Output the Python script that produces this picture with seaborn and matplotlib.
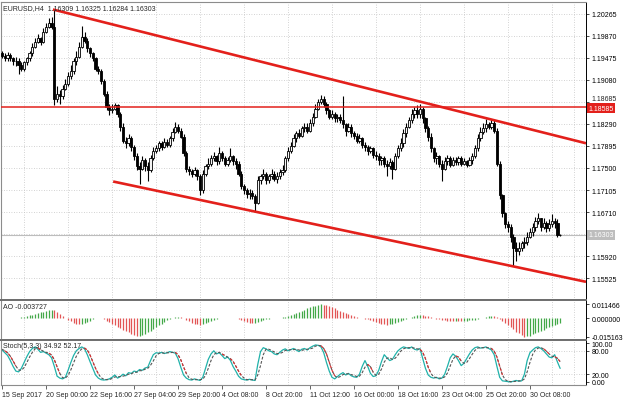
import numpy as np
import pandas as pd
import matplotlib.pyplot as plt
import matplotlib.transforms as mtransforms
import seaborn as sns

# EURUSD H4 bars (open = previous close)
first_open = 1.1955
close = [1.1951, 1.1946, 1.1953, 1.1946, 1.1941, 1.1942, 1.1935, 1.1928, 1.1939, 1.1946,
         1.1955, 1.1967, 1.1976, 1.1982, 1.1975, 1.1994, 1.2003, 1.2010, 1.2003, 1.1874,
         1.1883, 1.1878, 1.1892, 1.1901, 1.1915, 1.1924, 1.1941, 1.1949, 1.1967, 1.1985,
         1.1978, 1.1964, 1.1955, 1.1946, 1.1928, 1.1924, 1.1906, 1.1883, 1.1860, 1.1853,
         1.1856, 1.1862, 1.1847, 1.1824, 1.1799, 1.1794, 1.1803, 1.1788, 1.1771, 1.1753,
         1.1749, 1.1764, 1.1753, 1.1746, 1.1767, 1.1781, 1.1785, 1.1794, 1.1788, 1.1797,
         1.1792, 1.1803, 1.1815, 1.1824, 1.1817, 1.1806, 1.1776, 1.1749, 1.1744, 1.1739,
         1.1746, 1.1735, 1.1710, 1.1740, 1.1753, 1.1758, 1.1767, 1.1771, 1.1762, 1.1776,
         1.1767, 1.1758, 1.1764, 1.1771, 1.1762, 1.1758, 1.1740, 1.1717, 1.1710, 1.1703,
         1.1706, 1.1699, 1.1687, 1.1728, 1.1735, 1.1739, 1.1728, 1.1735, 1.1740, 1.1731,
         1.1735, 1.1742, 1.1746, 1.1767, 1.1781, 1.1790, 1.1803, 1.1812, 1.1808, 1.1821,
         1.1824, 1.1817, 1.1830, 1.1842, 1.1856, 1.1869, 1.1874, 1.1865, 1.1853, 1.1842,
         1.1847, 1.1839, 1.1842, 1.1835, 1.1828, 1.1817, 1.1824, 1.1812, 1.1808, 1.1799,
         1.1803, 1.1792, 1.1788, 1.1781, 1.1785, 1.1774, 1.1771, 1.1764, 1.1767, 1.1758,
         1.1753, 1.1760, 1.1749, 1.1771, 1.1785, 1.1794, 1.1812, 1.1824, 1.1835, 1.1847,
         1.1853, 1.1846, 1.1856, 1.1839, 1.1821, 1.1806, 1.1785, 1.1767, 1.1771, 1.1758,
         1.1749, 1.1762, 1.1767, 1.1756, 1.1764, 1.1760, 1.1767, 1.1758, 1.1762, 1.1756,
         1.1764, 1.1771, 1.1785, 1.1803, 1.1815, 1.1821, 1.1828, 1.1824, 1.1831, 1.1817,
         1.1758, 1.1701, 1.1669, 1.1649, 1.1645, 1.1627, 1.1606, 1.1602, 1.1606, 1.1615,
         1.1618, 1.1627, 1.1635, 1.1645, 1.1656, 1.1660, 1.1645, 1.1652, 1.1642, 1.1649,
         1.1656, 1.1652, 1.16309, 1.16303]
high = [1.1960, 1.1955, 1.1957, 1.1955, 1.1949, 1.1948, 1.1946, 1.1939, 1.1942, 1.1949,
        1.1960, 1.1973, 1.1982, 1.1989, 1.1985, 1.2000, 1.2009, 1.2018, 1.2021, 1.2032,
        1.1896, 1.1889, 1.1898, 1.1910, 1.1921, 1.1935, 1.1946, 1.1960, 1.1975, 1.2005,
        1.1994, 1.1982, 1.1967, 1.1958, 1.1949, 1.1933, 1.1928, 1.1910, 1.1887, 1.1865,
        1.1864, 1.1867, 1.1865, 1.1851, 1.1830, 1.1806, 1.1810, 1.1808, 1.1792, 1.1776,
        1.1760, 1.1771, 1.1767, 1.1760, 1.1774, 1.1788, 1.1792, 1.1799, 1.1799, 1.1803,
        1.1801, 1.1808, 1.1821, 1.1833, 1.1828, 1.1821, 1.1810, 1.1780, 1.1753, 1.1749,
        1.1751, 1.1749, 1.1739, 1.1746, 1.1758, 1.1767, 1.1774, 1.1778, 1.1774, 1.1788,
        1.1780, 1.1771, 1.1769, 1.1785, 1.1774, 1.1767, 1.1762, 1.1744, 1.1722, 1.1715,
        1.1713, 1.1710, 1.1703, 1.1735, 1.1740, 1.1748, 1.1742, 1.1740, 1.1748, 1.1744,
        1.1742, 1.1749, 1.1755, 1.1772, 1.1788, 1.1797, 1.1810, 1.1817, 1.1819, 1.1826,
        1.1831, 1.1830, 1.1837, 1.1849, 1.1864, 1.1874, 1.1880, 1.1878, 1.1869, 1.1856,
        1.1853, 1.1851, 1.1847, 1.1846, 1.1878, 1.1831, 1.1830, 1.1828, 1.1817, 1.1812,
        1.1810, 1.1805, 1.1797, 1.1792, 1.1790, 1.1787, 1.1780, 1.1776, 1.1772, 1.1771,
        1.1764, 1.1767, 1.1764, 1.1776, 1.1792, 1.1803, 1.1819, 1.1830, 1.1842, 1.1856,
        1.1860, 1.1862, 1.1864, 1.1860, 1.1842, 1.1826, 1.1812, 1.1788, 1.1778, 1.1774,
        1.1765, 1.1769, 1.1774, 1.1771, 1.1769, 1.1769, 1.1772, 1.1771, 1.1767, 1.1765,
        1.1769, 1.1776, 1.1792, 1.1810, 1.1824, 1.1830, 1.1837, 1.1833, 1.1837, 1.1835,
        1.1821, 1.1762, 1.1704, 1.1672, 1.1656, 1.1649, 1.1631, 1.1617, 1.1617, 1.1620,
        1.1627, 1.1635, 1.1642, 1.1652, 1.1663, 1.1669, 1.1661, 1.1660, 1.1656, 1.1658,
        1.1667, 1.1661, 1.1658, 1.16325]
low = [1.1946, 1.1942, 1.1942, 1.1941, 1.1935, 1.1932, 1.1919, 1.1923, 1.1924, 1.1935,
       1.1942, 1.1951, 1.1964, 1.1973, 1.1971, 1.1973, 1.1991, 1.2000, 1.1998, 1.1862,
       1.1869, 1.1865, 1.1874, 1.1889, 1.1896, 1.1910, 1.1919, 1.1935, 1.1946, 1.1964,
       1.1973, 1.1958, 1.1949, 1.1942, 1.1923, 1.1919, 1.1901, 1.1878, 1.1853, 1.1844,
       1.1849, 1.1853, 1.1842, 1.1817, 1.1794, 1.1785, 1.1790, 1.1781, 1.1764, 1.1746,
       1.1721, 1.1746, 1.1744, 1.1726, 1.1742, 1.1764, 1.1776, 1.1781, 1.1783, 1.1785,
       1.1787, 1.1788, 1.1799, 1.1812, 1.1812, 1.1803, 1.1771, 1.1742, 1.1737, 1.1733,
       1.1735, 1.1728, 1.1701, 1.1706, 1.1735, 1.1749, 1.1753, 1.1762, 1.1756, 1.1758,
       1.1762, 1.1753, 1.1753, 1.1760, 1.1756, 1.1749, 1.1735, 1.1712, 1.1703, 1.1697,
       1.1695, 1.1694, 1.1672, 1.1685, 1.1722, 1.1730, 1.1722, 1.1724, 1.1730, 1.1726,
       1.1724, 1.1731, 1.1737, 1.1742, 1.1762, 1.1776, 1.1787, 1.1797, 1.1803, 1.1805,
       1.1815, 1.1812, 1.1814, 1.1826, 1.1839, 1.1853, 1.1864, 1.1860, 1.1847, 1.1837,
       1.1837, 1.1833, 1.1833, 1.1830, 1.1821, 1.1808, 1.1814, 1.1806, 1.1801, 1.1794,
       1.1794, 1.1785, 1.1781, 1.1774, 1.1776, 1.1767, 1.1764, 1.1756, 1.1755, 1.1751,
       1.1735, 1.1748, 1.1731, 1.1746, 1.1767, 1.1780, 1.1788, 1.1806, 1.1821, 1.1830,
       1.1840, 1.1839, 1.1839, 1.1831, 1.1814, 1.1799, 1.1778, 1.1760, 1.1758, 1.1751,
       1.1726, 1.1746, 1.1755, 1.1751, 1.1753, 1.1755, 1.1756, 1.1753, 1.1755, 1.1751,
       1.1753, 1.1758, 1.1767, 1.1781, 1.1799, 1.1810, 1.1815, 1.1819, 1.1819, 1.1812,
       1.1753, 1.1695, 1.1663, 1.1642, 1.1635, 1.1618, 1.1575, 1.1584, 1.1595, 1.1601,
       1.1606, 1.1613, 1.1624, 1.1629, 1.1638, 1.1649, 1.1638, 1.1640, 1.1635, 1.1638,
       1.1644, 1.1642, 1.1627, 1.16284]

# Awesome Oscillator
ao = [0.0003, 0.0002, 0.0001, -0.0001, 0.0000, 0.0002, 0.0004, 0.0008, 0.0013, 0.0018,
      0.0024, 0.0030, 0.0036, 0.0042, 0.0048, 0.0054, 0.0060, 0.0066, 0.0071, 0.0063,
      0.0050, 0.0035, 0.0018, 0.0002, -0.0012, -0.0025, -0.0036, -0.0045, -0.0052, -0.0048,
      -0.0040, -0.0030, -0.0020, -0.0010, -0.0002, 0.0004, 0.0003, -0.0008, -0.0020, -0.0032,
      -0.0045, -0.0058, -0.0070, -0.0082, -0.0094, -0.0106, -0.0118, -0.0130, -0.0141, -0.0149,
      -0.0148, -0.0140, -0.0128, -0.0115, -0.0102, -0.0088, -0.0074, -0.0060, -0.0046, -0.0032,
      -0.0018, -0.0006, 0.0004, 0.0010, 0.0012, 0.0008, -0.0002, -0.0014, -0.0026, -0.0037,
      -0.0046, -0.0052, -0.0055, -0.0050, -0.0042, -0.0032, -0.0022, -0.0013, -0.0006, -0.0002,
      0.0002, 0.0003, 0.0001, -0.0002, -0.0001, 0.0001, -0.0003, -0.0012, -0.0022, -0.0031,
      -0.0038, -0.0042, -0.0039, -0.0032, -0.0024, -0.0016, -0.0009, -0.0004, -0.0001, 0.0002,
      0.0001, 0.0003, 0.0006, 0.0010, 0.0016, 0.0024, 0.0033, 0.0042, 0.0052, 0.0062,
      0.0071, 0.0080, 0.0089, 0.0097, 0.0104, 0.0110, 0.011466, 0.0112, 0.0106, 0.0098,
      0.0089, 0.0080, 0.0070, 0.0060, 0.0050, 0.0040, 0.0031, 0.0022, 0.0014, 0.0007,
      0.0002, -0.0001, -0.0003, -0.0006, -0.0014, -0.0022, -0.0030, -0.0038, -0.0045, -0.0050,
      -0.0054, -0.0051, -0.0045, -0.0038, -0.0030, -0.0021, -0.0012, -0.0004, 0.0004, 0.0012,
      0.0020, 0.0026, 0.0030, 0.0027, 0.0021, 0.0014, 0.0007, 0.0001, -0.0006, -0.0011,
      -0.0015, -0.0018, -0.0020, -0.0021, -0.0022, -0.0021, -0.0022, -0.0023, -0.0022, -0.0021,
      -0.0019, -0.0016, -0.0012, -0.0007, -0.0002, 0.0004, 0.0010, 0.0015, 0.0017, 0.0014,
      0.0006, -0.0006, -0.0020, -0.0036, -0.0055, -0.0074, -0.0093, -0.0110, -0.0125, -0.0140,
      -0.015163, -0.0150, -0.0143, -0.0134, -0.0124, -0.0114, -0.0104, -0.0094, -0.0084, -0.0075,
      -0.0066, -0.0057, -0.0047, -0.003727]

# Stochastic (5,3,3): main and signal
stoch_main = [82, 75, 68, 55, 40, 28, 26, 35, 50, 65, 78, 86, 90, 84, 76, 78, 74, 70, 62, 40,
              15, 10, 8, 12, 30, 50, 68, 80, 86, 90, 85, 70, 52, 35, 18, 10, 6, 5, 6, 8,
              12, 18, 10, 14, 20, 16, 24, 22, 28, 26, 32, 30, 36, 38, 55, 70, 75, 74, 76, 73,
              75, 78, 76, 74, 60, 38, 18, 10, 6, 5, 8, 6, 4, 12, 35, 58, 72, 80, 72, 75,
              68, 60, 64, 56, 40, 28, 15, 8, 6, 5, 7, 5, 4, 45, 78, 88, 85, 80, 78, 72,
              70, 76, 82, 85, 80, 83, 86, 82, 78, 84, 86, 82, 88, 92, 95, 94, 90, 75, 50, 28,
              12, 8, 14, 20, 24, 18, 22, 16, 13, 12, 20, 40, 55, 40, 22, 14, 16, 30, 52, 70,
              62, 55, 58, 70, 80, 86, 90, 88, 86, 90, 84, 82, 86, 60, 35, 18, 12, 10, 12, 8,
              10, 20, 40, 62, 72, 66, 55, 42, 48, 60, 72, 82, 88, 90, 87, 88, 90, 86, 82, 70,
              40, 12, 3, 2, 1, 0, 2, 4, 2, 3, 20, 55, 75, 82, 88, 90, 86, 80, 72, 64,
              62, 70, 51.6, 34.92]
stoch_signal = [84, 80, 75, 66, 54, 41, 31, 30, 37, 50, 64, 76, 85, 87, 83, 79, 76, 74, 69, 57,
                39, 22, 11, 10, 17, 31, 49, 66, 78, 85, 87, 82, 69, 52, 35, 21, 11, 7, 6, 6,
                9, 13, 13, 14, 15, 17, 20, 21, 25, 25, 29, 29, 33, 35, 43, 54, 67, 73, 75, 74,
                75, 75, 76, 76, 70, 57, 39, 22, 11, 7, 6, 6, 6, 7, 17, 35, 55, 70, 75, 76,
                72, 68, 64, 60, 53, 41, 28, 17, 10, 6, 6, 6, 5, 18, 42, 70, 84, 84, 81, 77,
                73, 73, 76, 81, 82, 83, 83, 84, 82, 81, 83, 84, 85, 87, 92, 94, 93, 86, 72, 51,
                30, 16, 11, 14, 19, 21, 21, 19, 17, 14, 15, 24, 38, 45, 39, 25, 17, 20, 33, 51,
                61, 62, 58, 61, 69, 79, 85, 88, 88, 88, 87, 85, 84, 76, 60, 38, 22, 13, 11, 10,
                10, 13, 23, 41, 58, 67, 64, 54, 48, 50, 60, 71, 81, 87, 88, 88, 88, 88, 86, 79,
                64, 41, 18, 6, 2, 1, 1, 2, 3, 3, 8, 26, 50, 71, 82, 87, 88, 85, 79, 72,
                66, 65, 61, 52.17]

price_ticks = [1.20265, 1.19870, 1.19475, 1.19080, 1.18685, 1.18290, 1.17895,
               1.17500, 1.17105, 1.16710, 1.16315, 1.15920, 1.15525]
level_price = 1.18585
upper_trend = [(18.5, 1.20337), (179.0, 1.18355)]
lower_trend = [(40.4, 1.17258), (186.2, 1.15736)]
time_labels = ["15 Sep 2017", "20 Sep 00:00", "22 Sep 16:00", "27 Sep 04:00",
               "29 Sep 20:00", "4 Oct 08:00", "8 Oct 20:00", "11 Oct 12:00",
               "16 Oct 00:00", "18 Oct 16:00", "23 Oct 04:00", "25 Oct 20:00",
               "30 Oct 08:00"]
label_every = 16
grid_every = 8

sns.set_style("white")
plt.rcParams['font.family'] = ['Liberation Sans', 'DejaVu Sans']
plt.rcParams['font.size'] = 5

df = pd.DataFrame({'close': close, 'high': high, 'low': low})
df['open'] = df['close'].shift(1).fillna(first_open)
df['high'] = df[['high', 'open', 'close']].max(axis=1)
df['low'] = df[['low', 'open', 'close']].min(axis=1)
x = np.arange(len(df))

W, H = 624, 402
fig = plt.figure(figsize=(W / 100, H / 100), dpi=100)


def box(l, t, r, b):
    return [l / W, 1 - b / H, (r - l) / W, (b - t) / H]


ax_p = fig.add_axes(box(1, 2.5, 586, 301))
ax_ao = fig.add_axes(box(1, 301, 586, 340.5), sharex=ax_p)
ax_st = fig.add_axes(box(1, 340.5, 586, 386), sharex=ax_p)
xmax = 212.4
ax_p.set_xlim(-0.4, xmax)

grid_kw = dict(color='#c4c4c4', ls=(0, (1, 2)), lw=0.6)
for ax in (ax_p, ax_ao, ax_st):
    ax.set_xticks(np.arange(grid_every, xmax, grid_every), minor=True)
    ax.grid(which='minor', axis='x', **grid_kw)
    ax.yaxis.tick_right()
    ax.tick_params(axis='y', which='both', length=2.5, width=0.5, pad=1.5,
                   labelsize=5, right=True, left=False, colors='black')
    ax.tick_params(axis='x', which='minor', length=0)
    for s in ax.spines.values():
        s.set_color('#8c8c8c')
        s.set_linewidth(0.8)
    ax.spines['right'].set_color('black')
    ax.spines['right'].set_linewidth(0.7)
    ax.set_axisbelow(True)
for ax in (ax_p, ax_ao):
    ax.tick_params(axis='x', which='major', length=0, labelbottom=False)
# thick separators between windows
ax_p.spines['bottom'].set_linewidth(1.4)
ax_p.spines['bottom'].set_color('#6e6e6e')
for s in ('top', 'bottom'):
    ax_ao.spines[s].set_linewidth(1.4)
    ax_ao.spines[s].set_color('#6e6e6e')
ax_st.spines['top'].set_linewidth(1.4)
ax_st.spines['top'].set_color('#6e6e6e')

# ---- price window ----
last = close[-1]
ax_p.set_ylim(1.15137, 1.20480)
ax_p.set_yticks(price_ticks)
# ticks under the bid label / next to the level label get special handling
hidden = [t for t in price_ticks if abs(t - last) < 0.0003]
nudged = [t for t in price_ticks if abs(t - level_price) < 0.0012]
ax_p.set_yticklabels(['' if (t in hidden or t in nudged) else f'{t:.5f}'
                      for t in price_ticks])
ax_p.grid(which='major', axis='y', **grid_kw)
trans = mtransforms.blended_transform_factory(ax_p.transAxes, ax_p.transData)
for t in nudged:
    ax_p.annotate(f'{t:.5f}', xy=(1, t), xycoords=trans, xytext=(4.0, 2.6),
                  textcoords='offset points', ha='left', va='center',
                  fontsize=5, annotation_clip=False)

bull = df['close'] >= df['open']
body_lo = df[['open', 'close']].min(axis=1)
body_h = (df['close'] - df['open']).abs().clip(lower=0.00004)
ax_p.vlines(x, df['low'], df['high'], color='black', lw=0.8, zorder=3)
ax_p.bar(x, body_h, bottom=body_lo, width=0.8,
         color=np.where(bull, '#f4f4f4', 'black'), edgecolor='black',
         linewidth=0.6, zorder=4)

# bid line
ax_p.axhline(last, color='#bdbdbd', lw=0.8, zorder=2)

# horizontal level and trend rays
ax_p.axhline(level_price, color='#e3201b', lw=1.1, zorder=5)
for (x0, y0), (x1, y1) in (upper_trend, lower_trend):
    k = (y1 - y0) / (x1 - x0)
    ax_p.plot([x0, xmax], [y0, y0 + k * (xmax - x0)], color='#e3201b',
              lw=1.9, solid_capstyle='butt', zorder=5)

ax_p.text(1.004, level_price - 0.00012, f'{level_price:.5f}', transform=trans,
          ha='left', va='center', color='white', fontsize=5, clip_on=False,
          zorder=10, bbox=dict(facecolor='#e3201b', edgecolor='none', pad=0.9))
ax_p.text(1.004, last, f'{last:.5f}', transform=trans, ha='left', va='center',
          color='white', fontsize=5, clip_on=False, zorder=10,
          bbox=dict(facecolor='#bdbdbd', edgecolor='none', pad=1.0))

o, h, l, c = df[['open', 'high', 'low', 'close']].iloc[-1]
ax_p.text(0.004, 0.993, f'EURUSD,H4  {o:.5f} {h:.5f} {l:.5f} {c:.5f}',
          transform=ax_p.transAxes, ha='left', va='top', fontsize=5, zorder=10)

# ---- Awesome Oscillator ----
ao_s = pd.Series(ao)
ao_col = np.where(ao_s.diff().fillna(0) >= 0, '#43a848', '#e25555')
ax_ao.vlines(np.arange(len(ao_s)), 0, ao_s, colors=ao_col, lw=0.9, zorder=3)
rng = ao_s.max() - ao_s.min()
ax_ao.set_ylim(ao_s.min() - 0.09 * rng, ao_s.max() + 0.13 * rng)
ao_ticks = [ao_s.max(), 0.0, ao_s.min()]
ax_ao.set_yticks(ao_ticks)
ax_ao.set_yticklabels([f'{v:.6f}' for v in ao_ticks])
ax_ao.text(0.004, 0.93, f'AO {ao_s.iloc[-1]:.6f}', transform=ax_ao.transAxes,
           ha='left', va='top', fontsize=5)

# ---- Stochastic ----
st = pd.DataFrame({'x': np.arange(len(stoch_main)), 'main': stoch_main,
                   'signal': stoch_signal})
for lev in (20, 80):
    ax_st.axhline(lev, **grid_kw)
sns.lineplot(data=st, x='x', y='main', ax=ax_st, color='#20b2aa', lw=0.9)
sns.lineplot(data=st, x='x', y='signal', ax=ax_st, color='#555555', lw=0.8,
             linestyle=(0, (2.5, 1.5)))
falling = (st['signal'].diff() < 0) & (st['signal'] - st['main'] > 6)
red_part = st['signal'].where(falling | falling.shift(-1, fill_value=False))
ax_st.plot(st['x'], red_part, color='#e03030', lw=0.8, ls=(0, (2.5, 1.5)))
ax_st.set_ylim(-7.7, 109)
ax_st.set_yticks([100, 80, 20, 0])
ax_st.set_yticklabels(['100.00', '80.00', '20.00', '0.00'])
ax_st.set_ylabel('')
ax_st.set_xlabel('')
ax_st.text(0.004, 0.94, f'Stoch(5,3,3) {stoch_main[-1]:.2f} {stoch_signal[-1]:.2f}',
           transform=ax_st.transAxes, ha='left', va='top', fontsize=5)

ax_st.set_xticks(np.arange(0, label_every * len(time_labels), label_every))
ax_st.set_xticklabels(time_labels, ha='left')
ax_st.tick_params(axis='x', which='major', length=3, width=0.5, pad=1.5,
                  labelsize=5, direction='out', bottom=True)
for ax in (ax_p, ax_ao):
    ax.set_xlabel('')

fig.savefig('out.png', dpi=100)
